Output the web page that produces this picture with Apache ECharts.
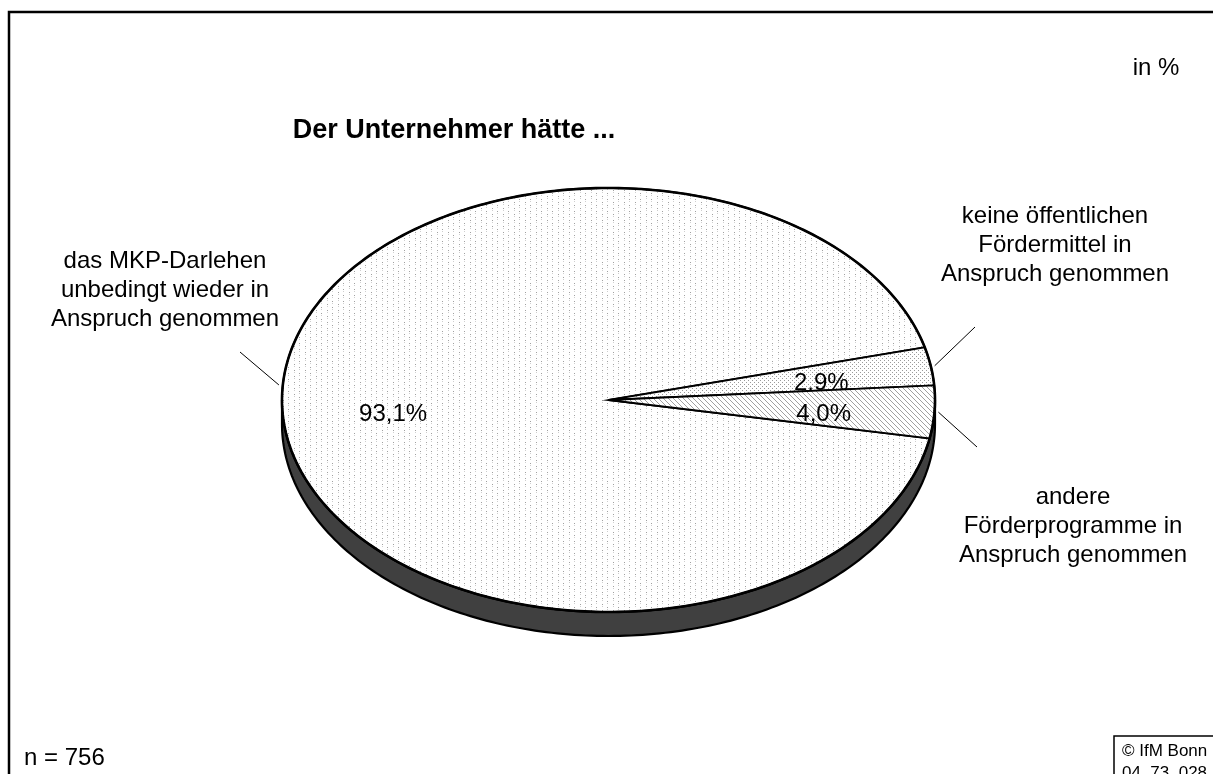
<!DOCTYPE html>
<html><head><meta charset="utf-8">
<script src="https://cdn.jsdelivr.net/npm/echarts@6/dist/echarts.min.js"></script>
<style>html,body{margin:0;padding:0;background:#fff}#c{width:1213px;height:774px}</style>
</head><body><div id="c"></div>
<script>
// ---- data ----
const categories = ['das MKP-Darlehen\nunbedingt wieder in\nAnspruch genommen',
                    'keine öffentlichen\nFördermittel in\nAnspruch genommen',
                    'andere\nFörderprogramme in\nAnspruch genommen'];
const values = [93.1, 2.9, 4.0];
const valueLabels = ['93,1%', '2,9%', '4,0%'];
const titleText = 'Der Unternehmer hätte ...';
const unitNote = 'in %';
const sampleNote = 'n = 756';
const sourceNote = '© IfM Bonn\n04. 73. 028';

// ---- layout ----
const CX = 608.5, CY = 400, RX = 326.5, RY = 212, DEPTH = 24;
const START = -10.44; // degrees, first slice start, drawn clockwise
const FONT = '"Liberation Sans", Arial, sans-serif';
const labelPos = [[165, 290], [1055, 245], [1073, 526]];
const leaderEnd = [[240, 352], [975, 327], [977, 447]];
const leaderAngleShift = [-6, 0, 0];
const innerLabelDy = [10, 6, 6];

function makePattern(w, h, draw) {
  const c = document.createElement('canvas'); c.width = w; c.height = h;
  const g = c.getContext('2d'); g.fillStyle = '#fff'; g.fillRect(0, 0, w, h); draw(g);
  return {image: c, repeat: 'repeat'};
}
const patterns = [
  makePattern(11, 6, g => {
    g.fillStyle = '#a0a0a0'; g.fillRect(2, 1, 1, 1); g.fillRect(8, 4, 1, 1);
    g.fillStyle = '#cfcfcf'; g.fillRect(2, 3, 1, 1); g.fillRect(8, 0, 1, 1);
  }),
  makePattern(4, 4, g => { g.fillStyle = '#9a9a9a'; g.fillRect(0, 0, 1, 1); g.fillRect(2, 2, 1, 1); }),
  makePattern(5, 5, g => { g.fillStyle = '#a0a0a0'; for (let k = 0; k < 5; k++) g.fillRect(k, k, 1, 1); })
];

const total = values.reduce((a, b) => a + b, 0);
const angles = []; { let a = START; values.forEach(v => { const b = a - v / total * 360; angles.push([a, b]); a = b; }); }

function pt(deg, s, dy) { const t = deg * Math.PI / 180; return [CX + RX * s * Math.cos(t), CY - RY * s * Math.sin(t) + (dy || 0)]; }
function arc(a0, a1, s, dy) { const n = Math.max(2, Math.ceil(Math.abs(a1 - a0))); const p = []; for (let k = 0; k <= n; k++) p.push(pt(a0 + (a1 - a0) * k / n, s, dy)); return p; }

const chart = echarts.init(document.getElementById('c'), null, {renderer: 'canvas'});
chart.setOption({
  animation: false,
  backgroundColor: '#fff',
  series: [
    { type: 'custom', coordinateSystem: 'none', z: 1, data: [0], silent: true,
      renderItem: () => {
        const pts = arc(180, 360, 1, 0).concat(arc(360, 180, 1, DEPTH));
        return { type: 'polygon', shape: {points: pts}, style: {fill: '#404040', stroke: '#000', lineWidth: 2.2} };
      } },
    { type: 'custom', coordinateSystem: 'none', z: 2, data: values, silent: true,
      renderItem: (params) => {
        const i = params.dataIndex; const [a0, a1] = angles[i]; const mid = (a0 + a1) / 2;
        const lp = pt(mid, 0.66, innerLabelDy[i]);
        const ls = pt(mid + leaderAngleShift[i], 1.012, 0);
        return { type: 'group', children: [
          { type: 'polygon', shape: {points: [[CX, CY]].concat(arc(a0, a1, 1, 0))}, style: {fill: patterns[i], stroke: '#000', lineWidth: 1.8} },
          { type: 'polyline', shape: {points: arc(a0, a1, 1, 0)}, style: {fill: null, stroke: '#000', lineWidth: 2.6} },
          { type: 'text', x: lp[0], y: lp[1], style: {text: valueLabels[i], font: '24px ' + FONT, fill: '#000', align: 'center', verticalAlign: 'middle'} },
          { type: 'line', shape: {x1: ls[0], y1: ls[1], x2: leaderEnd[i][0], y2: leaderEnd[i][1]}, style: {stroke: '#000', lineWidth: 1} },
          { type: 'text', x: labelPos[i][0], y: labelPos[i][1], style: {text: categories[i], font: '24px ' + FONT, lineHeight: 29, fill: '#000', align: 'center', verticalAlign: 'middle'} }
        ]};
      } }
  ],
  graphic: [
    { type: 'rect', shape: {x: 9, y: 12, width: 1400, height: 1000}, style: {fill: null, stroke: '#000', lineWidth: 2.5}, z: 10 },
    { type: 'text', x: 454, y: 131, style: {text: titleText, font: 'bold 27px ' + FONT, fill: '#000', align: 'center', verticalAlign: 'middle'}, z: 10 },
    { type: 'text', x: 1156, y: 68, style: {text: unitNote, font: '24px ' + FONT, fill: '#000', align: 'center', verticalAlign: 'middle'}, z: 10 },
    { type: 'text', x: 24, y: 758, style: {text: sampleNote, font: '24px ' + FONT, fill: '#000', align: 'left', verticalAlign: 'middle'}, z: 10 },
    { type: 'rect', shape: {x: 1114, y: 736, width: 200, height: 100}, style: {fill: '#fff', stroke: '#000', lineWidth: 1.5}, z: 10 },
    { type: 'text', x: 1122, y: 740, style: {text: sourceNote, font: '17px ' + FONT, lineHeight: 22, fill: '#000', align: 'left', verticalAlign: 'top'}, z: 11 }
  ]
});
</script></body></html>
